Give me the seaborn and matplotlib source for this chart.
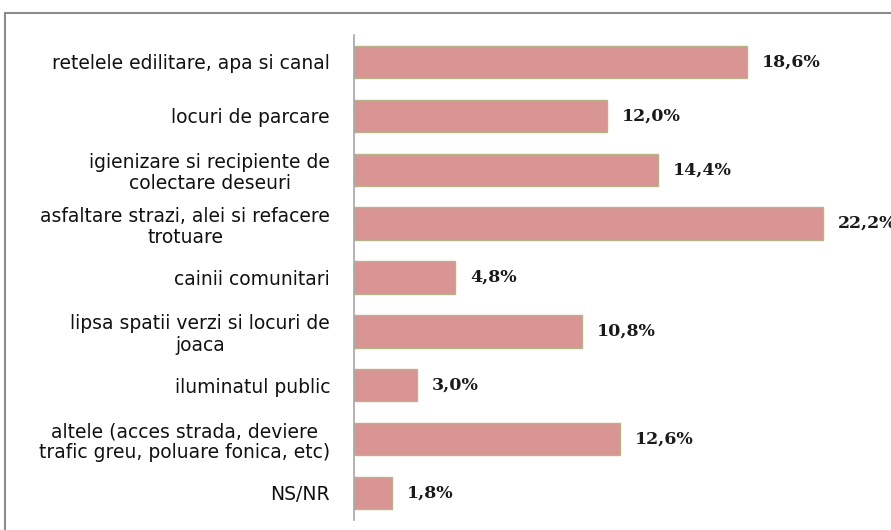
import pandas as pd
import seaborn as sns
import matplotlib.pyplot as plt
from matplotlib.patches import Rectangle

# data
categories = [
    "retelele edilitare, apa si canal",
    "locuri de parcare",
    "igienizare si recipiente de\ncolectare deseuri",
    "asfaltare strazi, alei si refacere\ntrotuare",
    "cainii comunitari",
    "lipsa spatii verzi si locuri de\njoaca",
    "iluminatul public",
    "altele (acces strada, deviere\ntrafic greu, poluare fonica, etc)",
    "NS/NR",
]
values = [18.6, 12.0, 14.4, 22.2, 4.8, 10.8, 3.0, 12.6, 1.8]
value_labels = ["18,6%", "12,0%", "14,4%", "22,2%", "4,8%", "10,8%", "3,0%", "12,6%", "1,8%"]

df = pd.DataFrame({"cat": categories, "val": values})

sns.set_style("white")
plt.rcParams["font.family"] = ["DejaVu Sans"]

fig = plt.figure(figsize=(8.91, 5.30), dpi=100)
ax = fig.add_axes([0.397, 0.019, 0.593, 0.915])

sns.barplot(data=df, x="val", y="cat", orient="h", color="#D99594",
            saturation=1, width=0.6, edgecolor="#B9B38C", linewidth=1, ax=ax)

for i, (v, lab) in enumerate(zip(values, value_labels)):
    ax.text(v + 0.7, i, lab, va="center", ha="left", fontsize=12.5,
            fontweight="bold", family="DejaVu Serif", color="#1a1a1a")

ax.set_xlim(0, 25)
ax.set_ylim(len(categories) - 0.5, -0.5)
ax.set_xlabel("")
ax.set_ylabel("")
ax.set_xticks([])

for s in ["top", "right", "bottom"]:
    ax.spines[s].set_visible(False)
ax.spines["left"].set_color("#a6a6a6")
ax.spines["left"].set_linewidth(1.2)

ax.set_yticks(range(len(categories)))
ax.set_yticklabels(categories, fontsize=13.5, multialignment="center",
                   color="#111111", linespacing=1.15)
ax.tick_params(axis="y", which="major", length=0, pad=17)
ax.set_yticks([i - 0.5 for i in range(len(categories) + 1)], minor=True)
ax.tick_params(axis="y", which="minor", length=5, color="#a6a6a6", width=1.2)

# outer chart border (right/bottom cut off in the reference)
fig.patches.append(Rectangle((5 / 891, -0.1), 1.2, 1.1 - 13 / 530,
                             transform=fig.transFigure, fill=False,
                             edgecolor="#8c8c8c", linewidth=1.5))

fig.savefig("out.png", dpi=100)
